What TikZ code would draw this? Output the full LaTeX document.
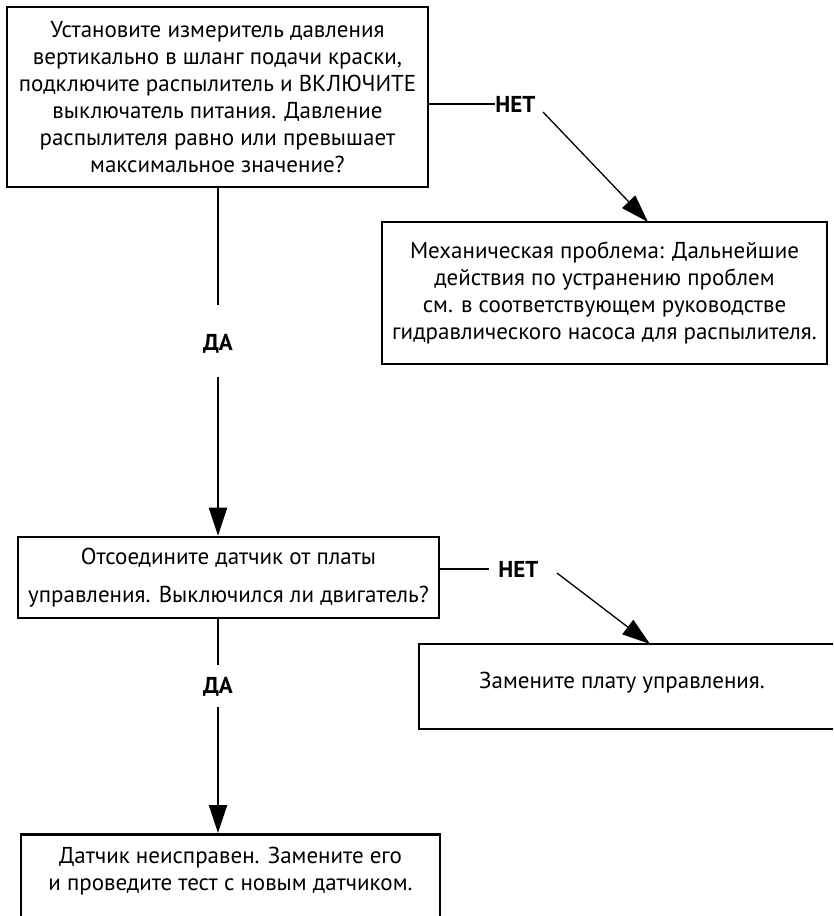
\documentclass[tikz,border=0pt]{standalone}
\usepackage{fontspec}
\setmainfont{PT Sans}
\usetikzlibrary{arrows.meta}
\begin{document}
\begin{tikzpicture}[x=1pt,y=-1pt,
  flowbox/.style={draw, line width=2.6pt, inner sep=0pt, align=center, font=\fontsize{23}{27}\selectfont},
  boxtext/.style={inner sep=0pt, align=center, font=\fontsize{23}{27}\selectfont},
  lbl/.style={inner sep=0pt, font=\bfseries\fontsize{23}{27}\selectfont},
  conn/.style={line width=2.4pt},
  thinline/.style={line width=1.3pt},
  arrowtip/.style={-{Triangle[length=28pt,width=18pt]}}]
\useasboundingbox (0,0) rectangle (833,916);
\clip (0,0) rectangle (833,916);

\node[flowbox, minimum width=421pt, minimum height=180pt] (b1) at (217.5,97)
  {Установите измеритель давления\\вертикально в шланг подачи краски,\\подключите распылитель и ВКЛЮЧИТЕ\\выключатель питания. Давление\\распылителя равно или превышает\\максимальное значение?};

\node[flowbox, minimum width=445pt, minimum height=142pt] (b2) at (604.5,293)
  {Механическая проблема: Дальнейшие\\действия по устранению проблем\\см. в соответствующем руководстве\\гидравлического насоса для распылителя.};

\node[flowbox, minimum width=421pt, minimum height=81pt, font=\fontsize{23}{38}\selectfont] (b3) at (228.5,577.5)
  {Отсоедините датчик от платы\\управления. Выключился ли двигатель?};

\node[flowbox, minimum width=440pt, minimum height=85pt] (b4) at (639,686.5) {};
\node[boxtext] (t4) at (622,683) {Замените плату управления.};

\node[flowbox, minimum width=419pt, minimum height=120pt, anchor=north] (b5) at (230.5,833) {};
\node[boxtext] (t5) at (230.5,871) {Датчик неисправен. Замените его\\и проведите тест с новым датчиком.};

\node[lbl] (net1) at (515.5,104) {НЕТ};
\node[lbl] (net2) at (518.5,569) {НЕТ};
\node[lbl] (da1) at (218,344) {ДА};
\node[lbl] (da2) at (218,687) {ДА};

\coordinate (a1s) at (543,112);
\coordinate (a1e) at (648,222);
\coordinate (a2s) at (557,573);
\coordinate (a2e) at (650,644);

\draw[conn] (b1.east |- net1) -- (net1.west);
\draw[thinline, arrowtip] (a1s) -- (a1e);
\draw[conn, shorten >=9pt] (b3.east |- net2) -- (net2.west);
\draw[thinline, arrowtip] (a2s) -- (a2e);

\draw[conn, shorten >=29pt] (da1 |- b1.south) -- (da1);
\draw[conn, arrowtip, shorten <=23pt] (da1) -- (da1 |- b3.north);
\draw[conn, shorten >=12pt] (da2 |- b3.south) -- (da2);
\draw[conn, arrowtip, shorten <=10pt] (da2) -- (da2 |- b5.north);
\end{tikzpicture}
\end{document}
